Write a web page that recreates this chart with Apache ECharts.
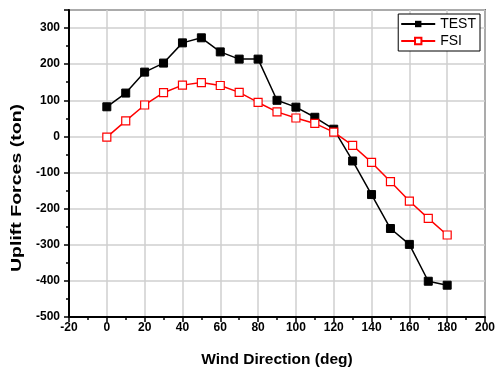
<!DOCTYPE html>
<html><head><meta charset="utf-8">
<script src="https://cdn.jsdelivr.net/npm/echarts@6/dist/echarts.min.js"></script>
<style>html,body{margin:0;padding:0;background:#fff}#c{width:496px;height:368px}</style>
</head><body><div id="c"></div>
<script>
var directions = [0,10,20,30,40,50,60,70,80,90,100,110,120,130,140,150,160,170,180];
var testValues = [82,120,178,203,259,273,234,214,214,100,81,53,20,-68,-161,-255,-299,-401,-412];
var fsiValues = [-2,43,87,121,142,149,141,122,94,68,51,36,12,-25,-72,-125,-179,-227,-273];
var seriesNames = ['TEST','FSI'];
var xTitle = 'Wind Direction (deg)';
var yTitle = 'Uplift Forces (ton)';

function pairs(vals){ return directions.map(function(d,i){ return [d, vals[i]]; }); }
var font = 'Liberation Sans, Arial, sans-serif';
var chart = echarts.init(document.getElementById('c'), null, {renderer:'canvas'});
chart.setOption({
  animation:false,
  grid:{left:69,right:11,top:10,bottom:51,show:true,borderColor:'#000',borderWidth:1.5,backgroundColor:'transparent',
        outerBoundsMode:'none', containLabel:false},
  legend:{
    right:16, top:14, orient:'vertical', itemGap:3, itemWidth:34, itemHeight:8,
    borderColor:'#000', borderWidth:1, padding:[3,4,3,2], backgroundColor:'#fff',
    textStyle:{fontFamily:font,fontSize:14,color:'#000'},
    data:seriesNames
  },
  graphic:[{
    type:'text', x:17, y:188, rotation:Math.PI/2, scaleX:1.26,
    style:{text:yTitle, fontFamily:font, fontSize:15.5, fontWeight:'bold', fill:'#000',
           align:'center', verticalAlign:'middle'}
  }],
  xAxis:{
    type:'value', min:-20, max:200, interval:20,
    name:xTitle, nameLocation:'middle', nameGap:35,
    nameTextStyle:{fontFamily:font,fontSize:15.5,fontWeight:'bold',color:'#000'},
    axisLine:{onZero:false,lineStyle:{color:'#000',width:2}},
    axisTick:{show:true,length:5,lineStyle:{color:'#000',width:1.5}},
    minorTick:{show:true,splitNumber:2,length:3,lineStyle:{color:'#000',width:1.5}},
    axisLabel:{fontFamily:font,fontSize:12,fontWeight:'bold',color:'#000',margin:5},
    splitLine:{show:true,lineStyle:{color:'#cfcfcf',width:1.5}}
  },
  yAxis:{
    type:'value', min:-500, max:350, interval:100,
    axisLine:{onZero:false,lineStyle:{color:'#000',width:2}},
    axisTick:{show:true,length:5,lineStyle:{color:'#000',width:1.5}},
    minorTick:{show:true,splitNumber:2,length:3,lineStyle:{color:'#000',width:1.5}},
    axisLabel:{fontFamily:font,fontSize:12,fontWeight:'bold',color:'#000',margin:9,
      formatter:function(v){ return v===350 ? '' : String(v); }},
    splitLine:{show:true,lineStyle:{color:'#cfcfcf',width:1.5}}
  },
  series:[
    {name:seriesNames[0],type:'line',data:pairs(testValues),symbol:'rect',symbolSize:8,
     lineStyle:{color:'#000',width:1.5},itemStyle:{color:'#000',borderColor:'#000'},z:2},
    {name:seriesNames[1],type:'line',data:pairs(fsiValues),symbol:'rect',symbolSize:8,
     lineStyle:{color:'#ff0000',width:1.5},itemStyle:{color:'#fff',borderColor:'#ff0000',borderWidth:1.2},z:3}
  ]
});
</script></body></html>
